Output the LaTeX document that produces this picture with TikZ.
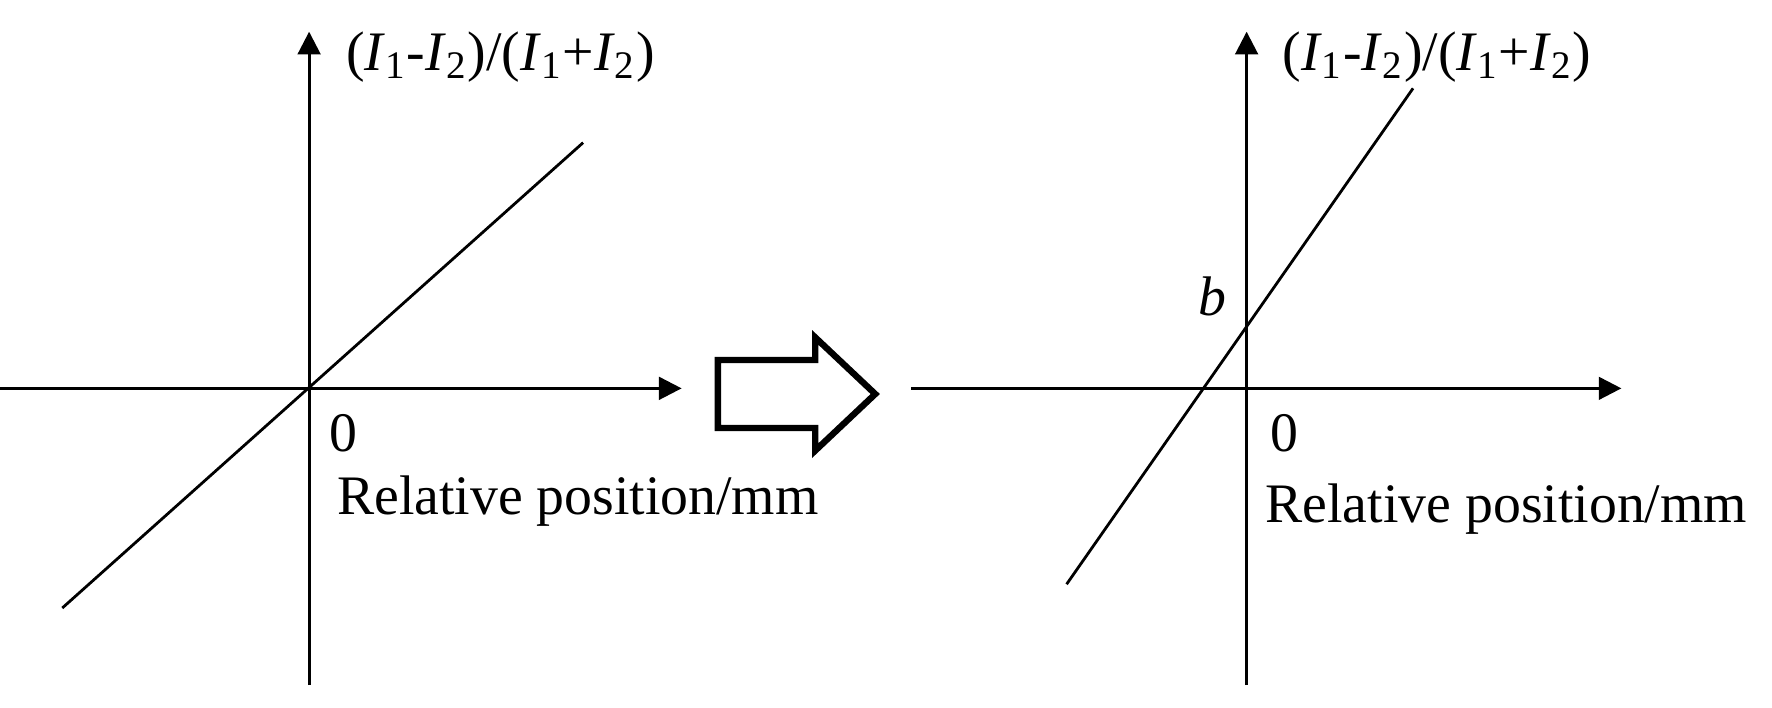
\documentclass[tikz,border=0pt]{standalone}
\usepackage{fontspec}
\setmainfont{Liberation Serif}
\usetikzlibrary{arrows.meta}
\begin{document}
\begin{tikzpicture}[x=0.01cm,y=-0.01cm,
  ax/.style={line width=0.7pt,-{Triangle[length=0.2cm,width=0.2cm]}},
  ln/.style={line width=0.7pt},
  lab/.style={font=\fontsize{14}{16}\selectfont,inner sep=0pt}]
\useasboundingbox (0,0) rectangle (1565,625);
% left
\coordinate (lb) at (273,605); \coordinate (lt) at (273,28);
\coordinate (ll) at (0,343); \coordinate (lr) at (602,343);
\coordinate (l1) at (55,537); \coordinate (l2) at (515,126);
\draw[ax] (lb) -- (lt);
\draw[ax] (ll) -- (lr);
\draw[ln] (l1) -- (l2);
\node[lab,anchor=west] (ly) at (305,50) {(\textit{I}\textsubscript{1}-\textit{I}\textsubscript{2})/(\textit{I}\textsubscript{1}+\textit{I}\textsubscript{2})};
\node[lab] (l0) at (303,383) {0};
\node[lab,anchor=west] (lx) at (297,443) {Relative position/mm};
% big arrow
\draw[line width=1.6pt,line join=miter] (634,318) -- (720,318) -- (720,298) -- (773,348) -- (720,398) -- (720,378) -- (634,378) -- cycle;
% right
\coordinate (rb) at (1101,605); \coordinate (rt) at (1101,28);
\coordinate (rl) at (805,343); \coordinate (rr) at (1432,343);
\coordinate (r1) at (942,516); \coordinate (r2) at (1248,78);
\draw[ax] (rb) -- (rt);
\draw[ax] (rl) -- (rr);
\draw[ln] (r1) -- (r2);
\node[lab,anchor=west] (ry) at (1132,50) {(\textit{I}\textsubscript{1}-\textit{I}\textsubscript{2})/(\textit{I}\textsubscript{1}+\textit{I}\textsubscript{2})};
\node[lab] (rbl) at (1071,262) {\textit{b}};
\node[lab] (r0) at (1134,383) {0};
\node[lab,anchor=west] (rx) at (1117,450) {Relative position/mm};
\end{tikzpicture}
\end{document}
